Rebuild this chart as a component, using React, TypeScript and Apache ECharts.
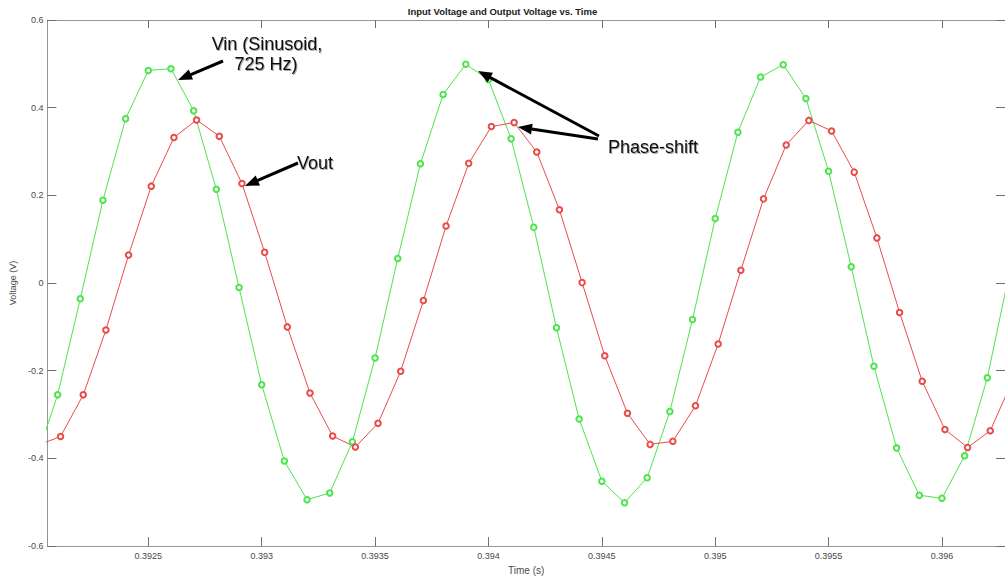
import React, { useEffect, useRef } from "react";
import * as echarts from "echarts";

// ---- data ----
const vinTime = [
  0.392, 0.3921, 0.3922, 0.3923, 0.3924, 0.3925, 0.3926, 0.3927, 0.3928, 0.3929,
  0.393, 0.3931, 0.3932, 0.3933, 0.3934, 0.3935, 0.3936, 0.3937, 0.3938, 0.3939,
  0.394, 0.3941, 0.3942, 0.3943, 0.3944, 0.3945, 0.3946, 0.3947, 0.3948, 0.3949,
  0.395, 0.3951, 0.3952, 0.3953, 0.3954, 0.3955, 0.3956, 0.3957, 0.3958, 0.3959,
  0.396, 0.3961, 0.3962, 0.3963,
];
const vinValues = [
  -0.41, -0.255, -0.036, 0.189, 0.375, 0.485, 0.489, 0.393, 0.214, -0.01,
  -0.232, -0.406, -0.494, -0.479, -0.362, -0.171, 0.056, 0.272, 0.43, 0.499,
  0.464, 0.329, 0.127, -0.102, -0.31, -0.452, -0.501, -0.444, -0.293, -0.083,
  0.147, 0.344, 0.47, 0.498, 0.421, 0.255, 0.037, -0.19, -0.376, -0.484,
  -0.491, -0.394, -0.216, 0.03,
];
const voutTime = [
  0.392013, 0.392113, 0.392213, 0.392313, 0.392413, 0.392513, 0.392613, 0.392713, 0.392813, 0.392913,
  0.393013, 0.393113, 0.393213, 0.393313, 0.393413, 0.393513, 0.393613, 0.393713, 0.393813, 0.393913,
  0.394013, 0.394113, 0.394213, 0.394313, 0.394413, 0.394513, 0.394613, 0.394713, 0.394813, 0.394913,
  0.395013, 0.395113, 0.395213, 0.395313, 0.395413, 0.395513, 0.395613, 0.395713, 0.395813, 0.395913,
  0.396013, 0.396113, 0.396213, 0.396313,
];
const voutValues = [
  -0.37, -0.35, -0.255, -0.107, 0.064, 0.221, 0.332, 0.372, 0.335, 0.227,
  0.07, -0.1, -0.251, -0.349, -0.374, -0.32, -0.201, -0.04, 0.13, 0.273,
  0.357, 0.366, 0.299, 0.167, 0.001, -0.166, -0.297, -0.368, -0.361, -0.28,
  -0.139, 0.029, 0.192, 0.315, 0.371, 0.347, 0.253, 0.103, -0.067, -0.224,
  -0.334, -0.375, -0.337, -0.22,
];
const xTicks = [0.3925, 0.393, 0.3935, 0.394, 0.3945, 0.395, 0.3955, 0.396];
const xTickLabels = ["0.3925", "0.393", "0.3935", "0.394", "0.3945", "0.395", "0.3955", "0.396"];
const yTicks = [-0.6, -0.4, -0.2, 0, 0.2, 0.4, 0.6];
const yTickLabels = ["-0.6", "-0.4", "-0.2", "0", "0.2", "0.4", "0.6"];

const X_MIN = 0.392055;
const X_MAX = 0.396278;

const FONT = "'Liberation Sans', Arial, Helvetica, sans-serif";
const AXIS_LINE = "#969696";
const TICK = "#6e6e6e";
const LABEL = "#4a4a4a";
const GREEN = "#4ee44e";
const RED = "#ea4a4a";

function arrow(x1: number, y1: number, x2: number, y2: number) {
  const dx = x2 - x1;
  const dy = y2 - y1;
  const len = Math.hypot(dx, dy);
  const ux = dx / len;
  const uy = dy / len;
  const hl = 14;
  const hw = 5.5;
  const bx = x2 - ux * hl;
  const by = y2 - uy * hl;
  const nx = -uy;
  const ny = ux;
  return [
    {
      type: "line",
      shape: { x1, y1, x2: bx + ux * 2, y2: by + uy * 2 },
      style: { stroke: "#000", lineWidth: 3 },
      z: 100,
    },
    {
      type: "polygon",
      shape: {
        points: [
          [x2, y2],
          [bx + nx * hw, by + ny * hw],
          [bx - nx * hw, by - ny * hw],
        ],
      },
      style: { fill: "#000" },
      z: 100,
    },
  ];
}

function annot(text: string, x: number, y: number, align: string) {
  return {
    type: "text",
    z: 100,
    style: {
      text,
      x,
      y,
      align,
      verticalAlign: "middle",
      font: `18px ${FONT}`,
      fill: "#111",
      textShadowColor: "rgba(0,0,0,0.35)",
      textShadowBlur: 1.5,
      textShadowOffsetX: 1,
      textShadowOffsetY: 1,
    },
  };
}

export default function App() {
  const ref = useRef<HTMLDivElement>(null);
  useEffect(() => {
    if (!ref.current) return;
    const chart = echarts.init(ref.current, undefined, { renderer: "svg" });
    const axisCommon = {
      type: "value",
      splitLine: { show: false },
      axisLine: { show: true, onZero: false, lineStyle: { color: AXIS_LINE, width: 1 } },
      axisTick: { show: true, inside: true, length: 9, lineStyle: { color: TICK, width: 1 } },
    };
    chart.setOption({
      animation: false,
      backgroundColor: "#fff",
      title: {
        text: "Input Voltage and Output Voltage vs. Time",
        left: "center",
        top: 1,
        textStyle: { fontFamily: FONT, fontSize: 9.5, fontWeight: "bold", color: "#222" },
      },
      grid: { left: 41, right: -4, top: 20, bottom: 31 },
      xAxis: [
        {
          ...axisCommon,
          position: "bottom",
          min: X_MIN,
          max: X_MAX,
          name: "Time (s)",
          nameLocation: "middle",
          nameGap: 17,
          nameTextStyle: { fontFamily: FONT, fontSize: 10, color: LABEL },
          axisTick: { ...axisCommon.axisTick, customValues: xTicks },
          axisLabel: {
            show: true,
            customValues: xTicks,
            margin: 5,
            fontFamily: FONT,
            fontSize: 9,
            color: LABEL,
            formatter: (v: number) => {
              const i = xTicks.findIndex((t) => Math.abs(t - v) < 1e-9);
              return i >= 0 ? xTickLabels[i] : "";
            },
          },
        },
        {
          ...axisCommon,
          position: "top",
          min: X_MIN,
          max: X_MAX,
          axisTick: { ...axisCommon.axisTick, length: 8, customValues: xTicks },
          axisLabel: { show: false },
        },
      ],
      yAxis: [
        {
          ...axisCommon,
          position: "left",
          min: -0.6,
          max: 0.6,
          name: "Voltage (V)",
          nameLocation: "middle",
          nameGap: 19,
          nameRotate: 90,
          nameTextStyle: { fontFamily: FONT, fontSize: 9, color: LABEL },
          axisTick: { ...axisCommon.axisTick, customValues: yTicks },
          axisLabel: {
            show: true,
            customValues: yTicks,
            margin: 4,
            fontFamily: FONT,
            fontSize: 9,
            color: LABEL,
            formatter: (v: number) => {
              const i = yTicks.findIndex((t) => Math.abs(t - v) < 1e-9);
              return i >= 0 ? yTickLabels[i] : "";
            },
          },
        },
        {
          ...axisCommon,
          position: "right",
          min: -0.6,
          max: 0.6,
          axisTick: { ...axisCommon.axisTick, customValues: yTicks },
          axisLabel: { show: false },
        },
      ],
      series: [
        {
          name: "Vin",
          type: "line",
          data: vinTime.map((t, i) => [t, vinValues[i]]),
          symbol: "emptyCircle",
          symbolSize: 5.5,
          showAllSymbol: true,
          clip: true,
          lineStyle: { color: GREEN, width: 1 },
          itemStyle: { color: GREEN, borderColor: GREEN, borderWidth: 0.8 },
        },
        {
          name: "Vout",
          type: "line",
          data: voutTime.map((t, i) => [t, voutValues[i]]),
          symbol: "emptyCircle",
          symbolSize: 5.5,
          showAllSymbol: true,
          clip: true,
          lineStyle: { color: RED, width: 1 },
          itemStyle: { color: RED, borderColor: RED, borderWidth: 0.8 },
        },
      ],
      graphic: [
        annot("Vin (Sinusoid,", 267, 44, "center"),
        annot("725 Hz)", 266, 64, "center"),
        annot("Vout", 297, 163, "left"),
        annot("Phase-shift", 608, 147, "left"),
        ...arrow(223, 61, 178, 80),
        ...arrow(298, 163, 245, 186),
        ...arrow(599, 136, 478, 71),
        ...arrow(598, 139, 518, 127),
      ],
    });
    return () => chart.dispose();
  }, []);
  return (
    <div
      ref={ref}
      style={{ position: "absolute", left: 0, top: 0, width: 1005, height: 580 }}
    />
  );
}
